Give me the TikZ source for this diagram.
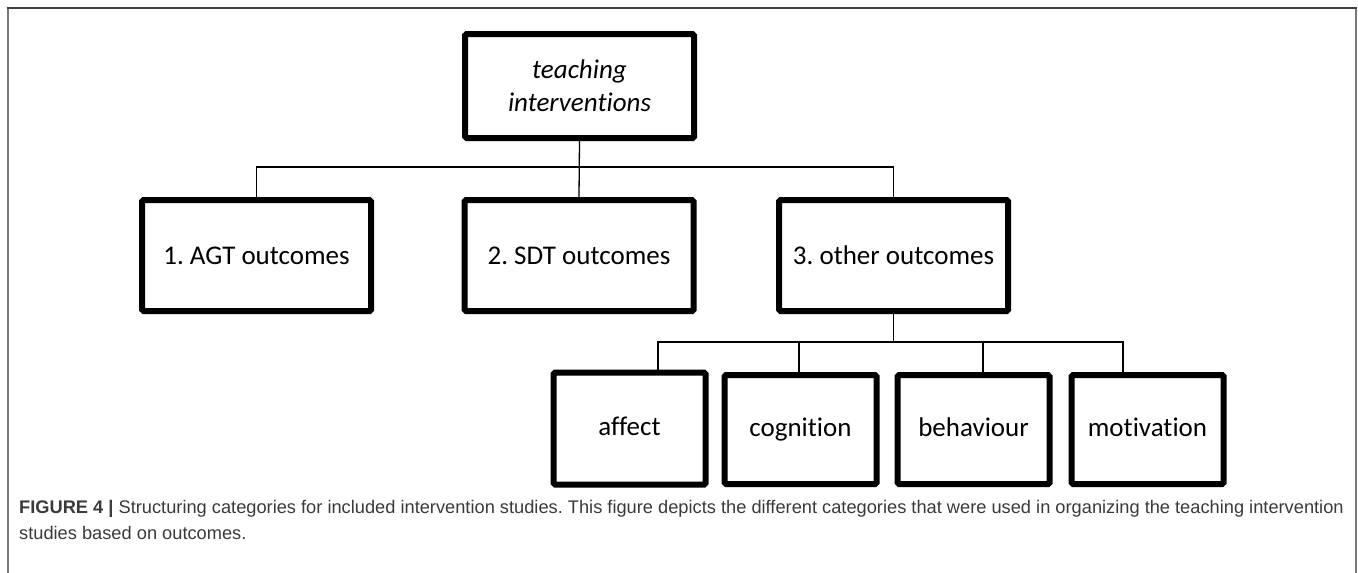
\documentclass[tikz,border=0pt]{standalone}
\usepackage{fontspec}
\setmainfont{Carlito}[Ligatures=NoCommon]
\newfontfamily\capfont{Liberation Sans}
\usetikzlibrary{positioning}
\definecolor{capGray}{HTML}{3A3A3A}
\definecolor{frameGray}{HTML}{7A7A7A}
\tikzset{
    catBox/.style={draw=black, line width=6pt, rounded corners=1.5pt, inner sep=0pt,
        minimum width=229pt, minimum height=111pt, align=center,
        font=\fontsize{27}{33}\selectfont},
    subBox/.style={catBox, minimum width=152pt, minimum height=109pt,
        text height=1.4em, text depth=0pt},
    linkLine/.style={black, line width=1.3pt},
    capText/.style={anchor=base west, inner sep=0pt, text=capGray,
        font=\capfont\fontsize{18.25}{26}\selectfont}
}
\frenchspacing
\begin{document}
\begin{tikzpicture}[x=1pt,y=-1pt]
    \useasboundingbox (0,0) rectangle (1358,573);
    % frame
    \draw[frameGray, line width=2pt] (7.5,573) -- (7.5,8);
    \draw[frameGray, line width=2pt] (1355.5,573) -- (1355.5,8);
    \draw[black!75, line width=2pt] (6.5,8) -- (1356.5,8);
    % boxes
    \node[catBox, minimum height=104pt] (teach) at (579.5,86) {\itshape teaching\\\itshape interventions};
    \node[catBox] (agt) at (256.5,255.5) {1. AGT outcomes};
    \node[catBox] (sdt) at (579,255.5) {2. SDT outcomes};
    \node[catBox] (other) at (893.5,255.5) {3. other outcomes};
    \node[subBox, minimum height=112pt] (affect) at (629.5,428.5) {affect};
    \node[subBox] (cognition) at (800.5,429.5) {cognition};
    \node[subBox] (behaviour) at (973.5,429.5) {behaviour};
    \node[subBox] (motivation) at (1147.5,429.5) {motivation};
    % connectors
    \coordinate (busTop) at (579.5,167);
    \draw[linkLine] (teach.south) -- (sdt.north);
    \draw[linkLine] (agt.north) |- (busTop) -| (other.north);
    \coordinate (busA) at (658,342);
    \coordinate (busB) at (799,342);
    \coordinate (busC) at (983,342);
    \coordinate (busD) at (1123,342);
    \draw[linkLine] (other.south) -- (other.south |- busA);
    \draw[linkLine] (busA |- affect.north) -- (busA) -- (busD) -- (busD |- motivation.north);
    \draw[linkLine] (busB) -- (busB |- cognition.north);
    \draw[linkLine] (busC) -- (busC |- behaviour.north);
    % caption
    \node[capText] (capA) at (19,513) {\textbf{FIGURE 4 |} Structuring categories for included intervention studies. This figure depicts the different categories that were used in organizing the teaching intervention};
    \node[capText] (capB) at (19,539) {studies based on outcomes.};
\end{tikzpicture}
\end{document}
